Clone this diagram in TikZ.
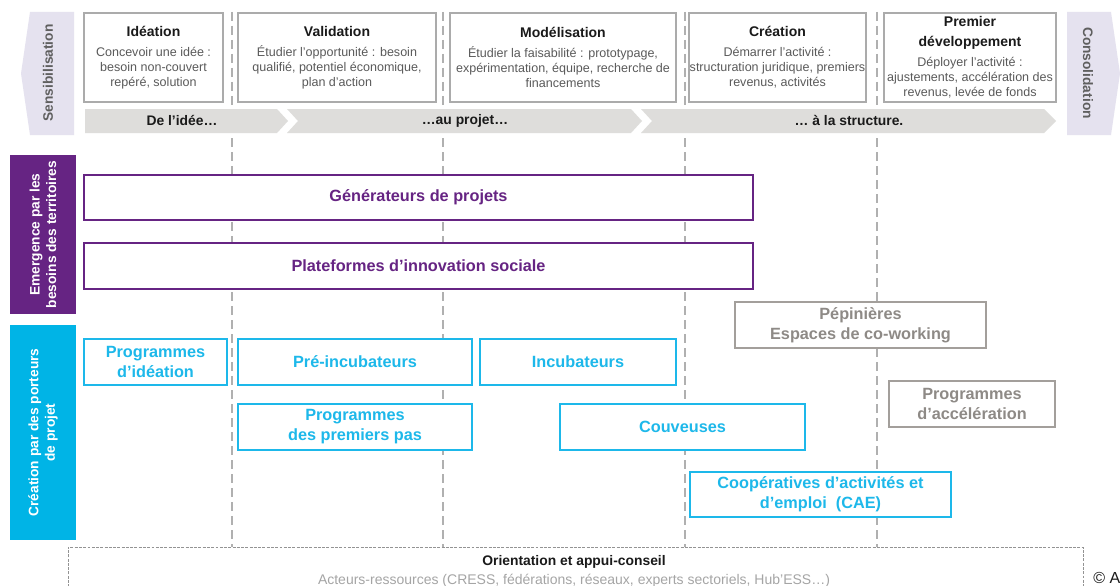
\documentclass[tikz,border=0pt]{standalone}
\usepackage{fontspec}
\setmainfont{Liberation Sans}
\definecolor{lav}{HTML}{E5E2EF}
\definecolor{bandc}{HTML}{DEDDDB}
\definecolor{purp}{HTML}{662483}
\definecolor{cyanx}{HTML}{00B4E6}
\definecolor{cyanb}{HTML}{1DB8EA}
\definecolor{wgray}{HTML}{A39F9B}
\definecolor{wgtext}{HTML}{8E8A86}
\definecolor{bordergray}{HTML}{ABABAB}
\definecolor{guidec}{HTML}{B0B0B0}
\definecolor{darktxt}{HTML}{1A1A1A}
\definecolor{bodytxt}{HTML}{5A5A5A}
\definecolor{sidetxt}{HTML}{5F5F5F}
\definecolor{acttxt}{HTML}{A5A5A5}
\begin{document}
\begin{tikzpicture}[x=0.75pt,y=-0.75pt,
  bx/.style 2 args={minimum width=#1*0.75pt, minimum height=#2*0.75pt},
  phase/.style={draw=bordergray, line width=0.8pt, fill=white, inner sep=0pt, align=center,
    font=\fontsize{9.4}{11.25}\selectfont, text=bodytxt},
  purpbox/.style={draw=purp, line width=1.9pt, fill=white, inner sep=0pt, text=purp,
    font=\fontsize{12.2}{15}\selectfont\bfseries, align=center},
  cyanbox/.style={draw=cyanb, line width=2.2pt, fill=white, inner sep=0pt, text=cyanb,
    font=\fontsize{12.2}{15}\selectfont\bfseries, align=center},
  graybox/.style={draw=wgray, line width=1.9pt, fill=white, inner sep=0pt, text=wgtext,
    font=\fontsize{12.2}{15}\selectfont\bfseries, align=center},
  guide/.style={draw=guidec, line width=1.1pt, dash pattern=on 6.75pt off 3.75pt},
  bandlabel/.style={font=\fontsize{10.4}{12}\selectfont\bfseries, text=darktxt},
  sidelabel/.style={font=\fontsize{10.3}{12.5}\selectfont\bfseries, align=center, rotate=90},
  panel/.style={inner sep=0pt},
]
\useasboundingbox (0,0) rectangle (1120,585);
\fill[white] (0,0) rectangle (1120,585);

% guide lines
\foreach \gx in {232,443,685,877} \draw[guide] (\gx,12) -- (\gx,547);

% side panels top
\fill[lav] (30,12) -- (74,12) -- (74,135) -- (30,135) -- (21,73.5) -- cycle;
\node[sidelabel, text=sidetxt] (sens) at (48,73) {Sensibilisation};
\fill[lav] (1067,12) -- (1111,12) -- (1120,73.5) -- (1111,135) -- (1067,135) -- cycle;
\node[sidelabel, rotate=180, text=sidetxt] (conso) at (1088,73) {Consolidation};

% phase boxes
\node[phase, bx={139}{89}] (idea) at (153.5,57.5) {\textcolor{darktxt}{\fontsize{10.5}{11.25}\selectfont\bfseries Idéation}\\[3.75pt]Concevoir une idée :\\besoin non-couvert\\repéré, solution};
\node[phase, bx={198}{89}] (valid) at (337,57.5) {\textcolor{darktxt}{\fontsize{10.5}{11.25}\selectfont\bfseries Validation}\\[3.75pt]Étudier l’opportunité : besoin\\qualifié, potentiel économique,\\plan d’action};
\node[phase, bx={226}{89}] (model) at (563,57.5) {\textcolor{darktxt}{\fontsize{10.5}{11.25}\selectfont\bfseries Modélisation}\\[3.75pt]Étudier la faisabilité : prototypage,\\expérimentation, équipe, recherche de\\financements};
\node[phase, bx={177}{89}] (crea) at (777.5,57.5) {\textcolor{darktxt}{\fontsize{10.5}{11.25}\selectfont\bfseries Création}\\[3.75pt]Démarrer l’activité :\\structuration juridique, premiers\\revenus, activités};
\node[phase, bx={172}{89}] (dev) at (970,57.5) {\textcolor{darktxt}{\fontsize{10.5}{11.25}\selectfont\bfseries Premier}\\[3.75pt]\textcolor{darktxt}{\fontsize{10.5}{11.25}\selectfont\bfseries développement}\\[3.75pt]Déployer l’activité :\\ajustements, accélération des\\revenus, levée de fonds};

% chevron band
\fill[bandc] (85,109) -- (277,109) -- (288,121) -- (277,133) -- (85,133) -- cycle;
\fill[bandc] (287,109) -- (631,109) -- (642,121) -- (631,133) -- (287,133) -- (298,121) -- cycle;
\fill[bandc] (641,109) -- (1044,109) -- (1056,121) -- (1044,133) -- (641,133) -- (652,121) -- cycle;
\node[bandlabel] (b1) at (182,120.5) {De l’idée…};
\node[bandlabel] (b2) at (465,120.5) {…au projet…};
\node[bandlabel] (b3) at (849,120.5) {… à la structure.};

% left coloured panels
\node[panel, fill=purp, bx={66}{159}] (emerg) at (43,234.5) {};
\node[sidelabel, text=white] at (emerg.center) {Emergence par les\\besoins des territoires};
\node[panel, fill=cyanx, bx={66}{215}] (porteurs) at (43,432.5) {};
\node[sidelabel, text=white] at (porteurs.center) {Création par des porteurs\\de projet};

% purple boxes
\node[purpbox, bx={669}{45}] (gen) at (418.5,197.5) {Générateurs de projets};
\node[purpbox, bx={669}{46}] (plat) at (418.5,266) {Plateformes d’innovation sociale};

% gray boxes
\node[graybox, bx={251}{46}] (pep) at (860.5,325) {Pépinières\\Espaces de co-working};
\node[graybox, bx={166}{46}] (acc) at (972,404) {Programmes\\d’accélération};

% cyan boxes
\node[cyanbox, bx={143}{46}] (pid) at (155.5,362) {Programmes\\d’idéation};
\node[cyanbox, bx={234}{46}] (preinc) at (355,362) {Pré-incubateurs};
\node[cyanbox, bx={196}{46}] (inc) at (578,362) {Incubateurs};
\node[cyanbox, bx={234}{46}] (ppp) at (355,427) {Programmes\\des premiers pas};
\node[cyanbox, bx={245}{46}] (couv) at (682.5,427) {Couveuses};
\node[cyanbox, bx={261}{45}] (cae) at (820.5,494.5) {Coopératives d’activités et\\d’emploi\ \ (CAE)};

% orientation box
\draw[draw=gray!85, line width=0.6pt, dash pattern=on 2.2pt off 1pt] (68,600) -- (68,547) -- (1083,547) -- (1083,600);
\node[font=\fontsize{10.4}{12}\selectfont\bfseries, text=darktxt] (orient) at (574,562) {Orientation et appui-conseil};
\node[font=\fontsize{10.5}{12}\selectfont, text=acttxt] (acteurs) at (574,580.5) {Acteurs-ressources (CRESS, fédérations, réseaux, experts sectoriels, Hub’ESS…)};
\node[font=\fontsize{12}{14}\selectfont, text=darktxt, anchor=west, inner sep=0pt] (copy) at (1093,578) {© A};
\end{tikzpicture}
\end{document}
